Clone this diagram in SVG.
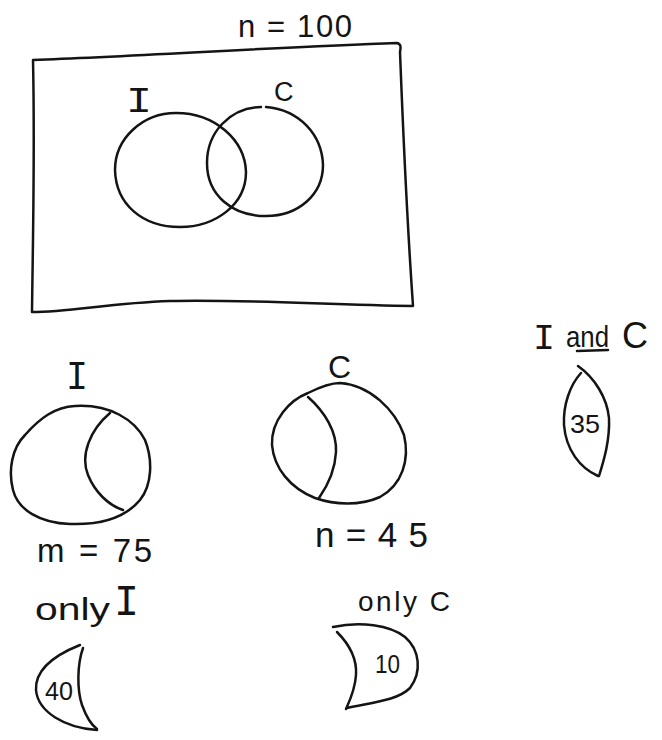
<svg xmlns="http://www.w3.org/2000/svg" width="662" height="740" viewBox="0 0 662 740">
<style>
.s{fill:none;stroke:#141414;stroke-width:2.5;stroke-linecap:round;stroke-linejoin:round}
.t{font-family:"Liberation Sans",Arial,sans-serif;fill:#141414}
.i{font-family:"Liberation Mono","Courier New",monospace;fill:#141414}
</style>
<rect width="662" height="740" fill="#ffffff"/>
<g id="universe">
<text class="t" x="238" y="37" font-size="31" textLength="114" lengthAdjust="spacing">n = 100</text>
<path class="s" d="M33,60 C140,56 280,47 397,43 C401,44 401,47 400,52 C403,130 407,220 413,306 C330,305 240,299 170,301 C110,303 70,312 32,312 C33,230 35,150 33,60 Z"/>
</g>
<g id="venn-I">
<text class="i" x="126" y="112" font-size="36" textLength="26" lengthAdjust="spacingAndGlyphs">I</text>
<path class="s" d="M176,113 C215,113 245,140 246,172 C246,205 215,227 180,227 C143,227 116,205 115,170 C115,138 143,113 176,113 Z"/>
</g>
<g id="venn-C">
<text class="t" x="274" y="101" font-size="27">C</text>
<path class="s" d="M266,107 C300,110 322,135 323,165 C323,195 298,216 266,216 C232,216 207,195 207,163 C207,132 230,108 261,107"/>
</g>
<g id="set-I">
<text class="i" x="66" y="389" font-size="40" textLength="22" lengthAdjust="spacingAndGlyphs">I</text>
<path class="s" d="M75,406 C110,404 135,420 145,440 C153,460 152,485 140,500 C125,518 100,525 70,524 C40,523 18,510 13,490 C8,470 12,448 25,435 C40,418 55,407 75,406 Z"/>
<path class="s" d="M110,413 C90,430 80,455 88,475 C95,492 108,505 123,510"/>
<text class="t" x="37" y="562" font-size="33" textLength="115" lengthAdjust="spacing">m = 75</text>
</g>
<g id="set-C">
<text class="t" x="328" y="378" font-size="32">C</text>
<path class="s" d="M340,383 C370,385 395,410 404,435 C410,460 402,485 380,497 C360,506 335,505 315,498 C290,488 274,468 272,445 C271,420 290,400 308,393 C320,387 330,383 340,383 Z"/>
<path class="s" d="M308,397 C325,412 337,432 336,452 C335,472 326,488 319,498"/>
<text class="t" x="315" y="547" font-size="35" textLength="113" lengthAdjust="spacing">n=45</text>
</g>
<g id="I-and-C">
<text class="i" x="533" y="349" font-size="36" textLength="22" lengthAdjust="spacingAndGlyphs">I</text>
<text class="t" x="566" y="347" font-size="30" textLength="43" lengthAdjust="spacingAndGlyphs">and</text>
<text class="t" x="622" y="348" font-size="36">C</text>
<path class="s" d="M577,351 L608,350"/>
<path class="s" d="M578,366 C595,378 607,398 609,418 C610,440 604,460 599,476"/>
<path class="s" d="M581,373 C570,385 563,405 564,425 C566,450 580,468 598,476"/>
<text class="t" x="570" y="433" font-size="26" textLength="30" lengthAdjust="spacingAndGlyphs">35</text>
</g>
<g id="only-I">
<text class="t" x="35" y="620" font-size="32" textLength="75" lengthAdjust="spacingAndGlyphs">only</text>
<text class="i" x="114" y="615" font-size="44" textLength="25" lengthAdjust="spacingAndGlyphs">I</text>
<path class="s" d="M80,645 C55,655 35,670 36,690 C38,712 65,728 97,730"/>
<path class="s" d="M83,648 C77,665 77,690 82,705 C86,716 90,724 97,729"/>
<text class="t" x="45" y="700" font-size="26" textLength="28" lengthAdjust="spacingAndGlyphs">40</text>
</g>
<g id="only-C">
<text class="t" x="358" y="611" font-size="28" textLength="92" lengthAdjust="spacing">only C</text>
<path class="s" d="M333,627 C360,621 390,625 405,637 C420,650 422,672 410,688 C398,700 375,702 347,708"/>
<path class="s" d="M337,632 C350,645 357,660 356,675 C355,690 350,700 346,709"/>
<text class="t" x="375" y="673" font-size="26" textLength="25" lengthAdjust="spacingAndGlyphs">10</text>
</g>
</svg>
